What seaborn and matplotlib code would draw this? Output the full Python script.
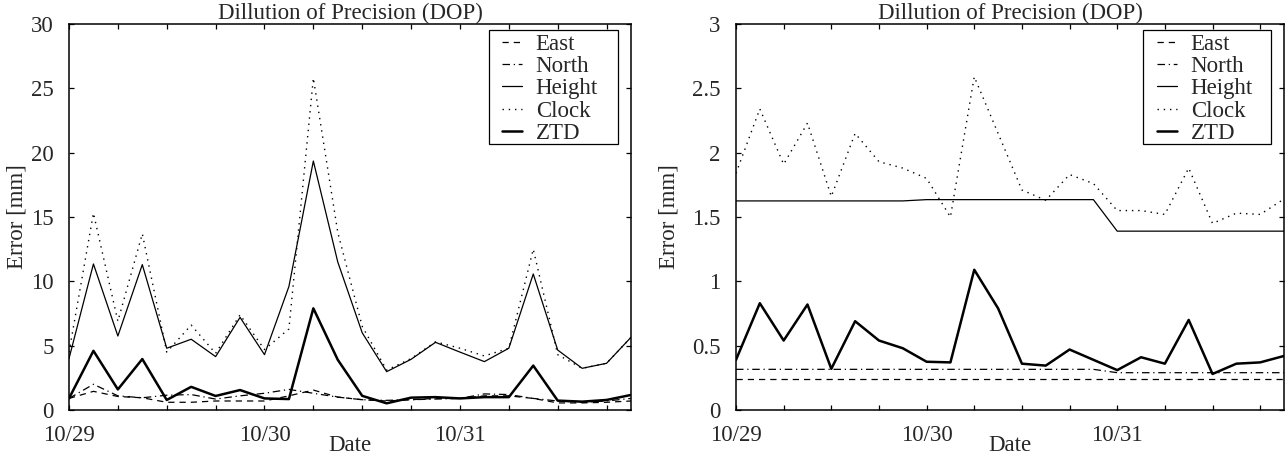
import matplotlib
matplotlib.use("Agg")
import matplotlib.pyplot as plt
from matplotlib.patches import Rectangle
from matplotlib.ticker import FixedLocator, MultipleLocator, FuncFormatter
import pandas as pd
import seaborn as sns

# ---------------------------------------------------------------- data
# sample epochs, in days after 10/29 00:00 (3-hour spacing)
epoch_days = [0.000, 0.125, 0.250, 0.375, 0.500, 0.625, 0.750, 0.875,
              1.000, 1.125, 1.250, 1.375, 1.500, 1.625, 1.750, 1.875,
              2.000, 2.125, 2.250, 2.375, 2.500, 2.625, 2.750, 2.875]
day_ticks = [0, 1, 2]
day_labels = ["10/29", "10/30", "10/31"]
series_names = ["East", "North", "Height", "Clock", "ZTD"]

# left panel: error [mm]
left_east = [0.90, 1.45, 1.05, 0.95, 0.60, 0.60, 0.70, 0.70, 0.70, 1.10, 1.55, 1.00,
             0.80, 0.70, 0.80, 0.90, 0.90, 1.10, 1.10, 0.90, 0.55, 0.55, 0.60, 0.70]
left_north = [0.90, 2.00, 1.10, 0.95, 1.15, 1.20, 0.85, 1.10, 1.30, 1.60, 1.30, 1.00,
              0.80, 0.75, 0.80, 0.85, 0.90, 1.25, 1.20, 0.90, 0.70, 0.60, 0.70, 0.90]
left_height = [4.00, 11.35, 5.75, 11.30, 4.80, 5.50, 4.15, 7.20, 4.30, 9.60, 19.35, 11.50,
               6.00, 2.98, 3.94, 5.26, 4.50, 3.76, 4.80, 10.57, 4.66, 3.24, 3.63, 5.65]
left_clock = [4.50, 15.30, 6.90, 13.70, 4.50, 6.60, 4.40, 7.40, 4.70, 6.30, 25.80, 13.80,
              6.50, 3.10, 4.00, 5.30, 4.80, 4.20, 4.80, 12.50, 4.30, 3.24, 3.63, 5.65]
left_ztd = [0.90, 4.60, 1.60, 3.96, 0.78, 1.80, 1.09, 1.55, 0.90, 0.85, 7.90, 3.90,
            1.10, 0.52, 0.96, 1.00, 0.90, 1.00, 1.00, 3.45, 0.73, 0.65, 0.78, 1.17]

# right panel: error [mm]
right_east = [0.24] * 24
right_north = [0.316, 0.316, 0.316, 0.316, 0.316, 0.316, 0.316, 0.316,
               0.316, 0.316, 0.316, 0.316, 0.316, 0.316, 0.316, 0.316,
               0.29, 0.29, 0.29, 0.29, 0.29, 0.29, 0.29, 0.29]
right_height = [1.625, 1.625, 1.625, 1.625, 1.625, 1.625, 1.625, 1.625,
                1.635, 1.635, 1.635, 1.635, 1.635, 1.635, 1.635, 1.635,
                1.39, 1.39, 1.39, 1.39, 1.39, 1.39, 1.39, 1.39]
right_clock = [1.84, 2.34, 1.91, 2.23, 1.66, 2.15, 1.93, 1.88, 1.80, 1.50, 2.59, 2.15,
               1.71, 1.63, 1.83, 1.76, 1.55, 1.55, 1.52, 1.88, 1.45, 1.53, 1.52, 1.64]
right_ztd = [0.39, 0.83, 0.54, 0.82, 0.32, 0.69, 0.54, 0.48, 0.375, 0.37, 1.09, 0.79,
             0.36, 0.345, 0.47, 0.39, 0.31, 0.41, 0.36, 0.70, 0.28, 0.36, 0.37, 0.42]

left_df = pd.DataFrame({"day": epoch_days, "East": left_east, "North": left_north,
                        "Height": left_height, "Clock": left_clock, "ZTD": left_ztd})
right_df = pd.DataFrame({"day": epoch_days, "East": right_east, "North": right_north,
                         "Height": right_height, "Clock": right_clock, "ZTD": right_ztd})

# ---------------------------------------------------------------- style
FS = 16.5
sns.set_style("ticks")
plt.rcParams["font.family"] = ["Liberation Serif", "DejaVu Serif"]
plt.rcParams["font.size"] = FS
plt.rcParams["axes.linewidth"] = 1.1

line_styles = {
    "East": dict(linestyle=(0, (5, 4)), linewidth=0.9),
    "North": dict(linestyle=(0, (6, 3, 1, 3)), linewidth=0.9),
    "Height": dict(linestyle="-", linewidth=0.9),
    "Clock": dict(linestyle=(0, (1, 3.5)), linewidth=1.0),
    "ZTD": dict(linestyle="-", linewidth=1.8),
}

W, H = 1285, 457
fig = plt.figure(figsize=(W / 100, H / 100), dpi=100)

# (data, axes left/right edge in px, y max, y tick step, y-label x offset,
#  key box left edge, key entries left edge)  -- offsets in axes fractions
panels = [
    (left_df, (69, 631), 30, 5, -0.073, 0.747, 0.770),
    (right_df, (736, 1284), 3, 0.5, -0.104, 0.743, 0.768),
]
top_px, bottom_px = 24, 410
key_right, key_top, key_bottom = 0.977, 0.984, 0.689

for df, (x0, x1), ymax, ystep, ylab_x, box_left, key_left in panels:
    ax = fig.add_axes([x0 / W, (H - bottom_px) / H, (x1 - x0) / W,
                       (bottom_px - top_px) / H])
    for name in series_names:
        sns.lineplot(data=df, x="day", y=name, ax=ax, color="black",
                     label=name, errorbar=None, estimator=None,
                     **line_styles[name])

    ax.set_xlim(epoch_days[0], epoch_days[-1])
    ax.set_ylim(0, ymax)
    ax.xaxis.set_major_locator(FixedLocator(day_ticks))
    ax.set_xticklabels(day_labels)
    ax.xaxis.set_minor_locator(MultipleLocator(0.25))
    ax.yaxis.set_major_locator(MultipleLocator(ystep))
    ax.yaxis.set_major_formatter(FuncFormatter(lambda v, p: f"{round(v, 2):g}"))

    ax.tick_params(which="both", direction="in", length=3.6, width=0.9,
                   top=True, right=True, color="black")
    ax.tick_params(axis="x", which="major", pad=11)
    ax.tick_params(axis="y", which="major", pad=11)
    for sp in ax.spines.values():
        sp.set_color("black")

    ax.set_title("Dillution of Precision (DOP)", pad=2, fontsize=FS)
    ax.set_xlabel("Date")
    ax.set_ylabel("Error [mm]")
    ax.xaxis.set_label_coords(0.5, -0.064)
    ax.yaxis.set_label_coords(ylab_x, 0.5)

    # key: entries without frame, boxed by a plain rectangle
    ax.legend(loc="upper left", bbox_to_anchor=(key_left, 0.974),
              frameon=False, borderpad=0, labelspacing=0.05,
              handlelength=0.87, handletextpad=0.61, borderaxespad=0,
              fontsize=FS)
    ax.add_patch(Rectangle((box_left, key_bottom), key_right - box_left,
                           key_top - key_bottom, transform=ax.transAxes,
                           fill=True, facecolor="white", edgecolor="black",
                           linewidth=0.9, zorder=4.9))

fig.savefig("out.png", dpi=100)
